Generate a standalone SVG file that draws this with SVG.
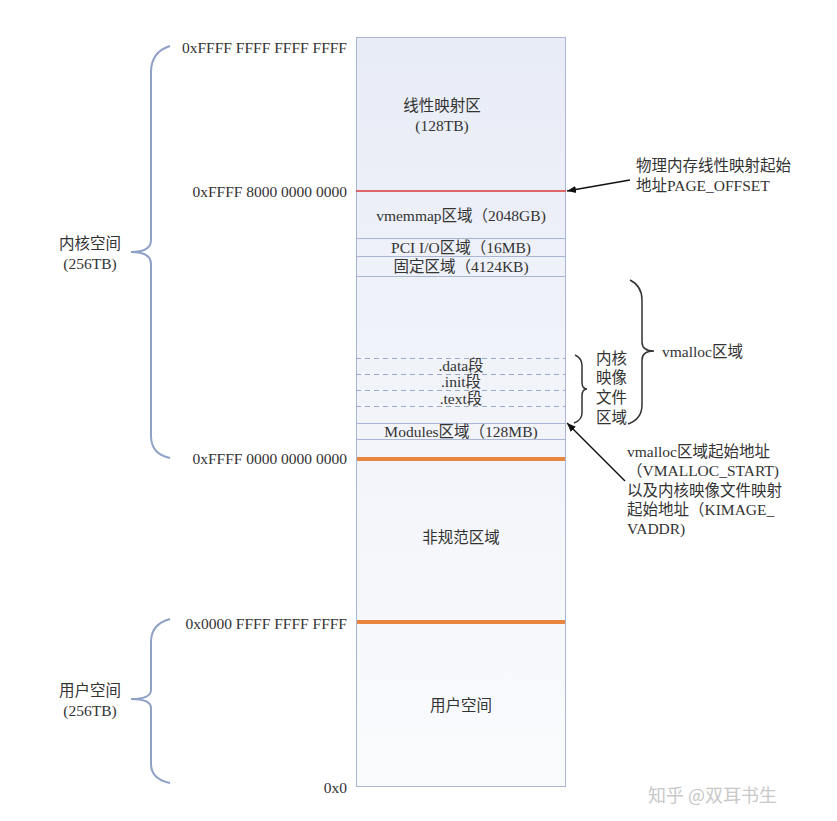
<svg xmlns="http://www.w3.org/2000/svg" width="837" height="821" viewBox="0 0 837 821">
<defs>
<linearGradient id="colfill" x1="0" y1="0" x2="0" y2="1">
<stop offset="0" stop-color="#e8ecf6"/>
<stop offset="0.5" stop-color="#f2f4fa"/>
<stop offset="1" stop-color="#fafbfd"/>
</linearGradient>
<marker id="arr" viewBox="0 0 10 10" refX="10" refY="5" markerWidth="9" markerHeight="9" markerUnits="userSpaceOnUse" orient="auto">
<path d="M0,1 L10,5 L0,9 Z" fill="#111"/>
</marker>
</defs>
<style>
text{font-family:"Liberation Serif","Noto Sans CJK SC",serif;font-size:15.5px;fill:#333}
.c{text-anchor:middle}
.e{text-anchor:end}
.sep{stroke:#a8b5d5;stroke-width:1;fill:none}
.dash{stroke:#9aa9cc;stroke-width:1;stroke-dasharray:5,4;fill:none}
.brace{stroke:#8fa2c6;stroke-width:2;fill:none}
.bk{stroke:#333;stroke-width:1.5;fill:none}
.orange{stroke:#e8853f;stroke-width:4}
.wm{font-family:"Noto Sans CJK SC",sans-serif;font-size:18px;fill:#c8c8c8}
</style>
<rect width="837" height="821" fill="#ffffff"/>

<g id="column">
<rect x="356.5" y="37.5" width="209" height="749" fill="url(#colfill)" stroke="#a8b5d5" stroke-width="1"/>
</g>

<g id="linear-map">
<text class="c" x="442" y="111">线性映射区</text>
<text class="c" x="442" y="131">(128TB)</text>
</g>
<line x1="356" y1="191" x2="566" y2="191" stroke="#d9383a" stroke-width="1.5"/>

<g id="vmemmap">
<text class="c" x="461" y="221">vmemmap区域（2048GB)</text>
<line class="sep" x1="356" y1="238.5" x2="566" y2="238.5"/>
</g>
<g id="pci">
<text class="c" x="461" y="253">PCI I/O区域（16MB)</text>
<line class="sep" x1="356" y1="256.5" x2="566" y2="256.5"/>
</g>
<g id="fixed">
<text class="c" x="461" y="272">固定区域（4124KB)</text>
<line class="sep" x1="356" y1="276.5" x2="566" y2="276.5"/>
</g>

<g id="kernel-image">
<line class="dash" x1="356" y1="358.5" x2="566" y2="358.5"/>
<line class="dash" x1="356" y1="374.5" x2="566" y2="374.5"/>
<line class="dash" x1="356" y1="390.5" x2="566" y2="390.5"/>
<line class="dash" x1="356" y1="406.5" x2="566" y2="406.5"/>
<text class="c" x="461" y="371">.data段</text>
<text class="c" x="461" y="387">.init段</text>
<text class="c" x="461" y="404">.text段</text>
</g>

<g id="modules">
<line class="sep" x1="356" y1="423.5" x2="566" y2="423.5"/>
<text class="c" x="461" y="437">Modules区域（128MB)</text>
<line class="sep" x1="356" y1="439.5" x2="566" y2="439.5"/>
</g>

<line class="orange" x1="357" y1="459" x2="565" y2="459"/>
<g id="noncanonical">
<text class="c" x="461" y="543">非规范区域</text>
</g>
<line class="orange" x1="357" y1="622" x2="565" y2="622"/>
<g id="user-area">
<text class="c" x="461" y="711">用户空间</text>
</g>

<g id="addresses">
<text class="e" x="347" y="53">0xFFFF FFFF FFFF FFFF</text>
<text class="e" x="347" y="197">0xFFFF 8000 0000 0000</text>
<text class="e" x="347" y="464">0xFFFF 0000 0000 0000</text>
<text class="e" x="347" y="629">0x0000 FFFF FFFF FFFF</text>
<text class="e" x="347" y="793">0x0</text>
</g>

<g id="kernel-space">
<path class="brace" d="M170,46 Q151,52 151,72 L151,240 Q151,252 131,252 Q151,252 151,264 L151,436 Q151,454 170,458"/>
<text class="c" x="90" y="249">内核空间</text>
<text class="c" x="90" y="269">(256TB)</text>
</g>

<g id="user-space">
<path class="brace" d="M170,619 Q151,624 151,642 L151,690 Q151,699 131,699 Q151,699 151,708 L151,764 Q151,779 170,783"/>
<text class="c" x="90" y="696">用户空间</text>
<text class="c" x="90" y="716">(256TB)</text>
</g>

<g id="vmalloc">
<path class="bk" d="M630,280 Q642,286 642,300 L642,342 Q642,351 654,351 Q642,351 642,360 L642,405 Q642,419 628,424"/>
<text x="662" y="357">vmalloc区域</text>
</g>

<g id="kimage-label">
<path class="bk" d="M575,355 Q582,358 582,366 L582,382 Q582,389 587,389 Q582,389 582,396 L582,413 Q582,420 574,423"/>
<text x="596" y="364">内核</text>
<text x="596" y="383">映像</text>
<text x="596" y="403">文件</text>
<text x="596" y="423">区域</text>
</g>

<g id="page-offset-note">
<text x="636" y="171">物理内存线性映射起始</text>
<text x="636" y="191">地址PAGE_OFFSET</text>
</g>

<g id="vmalloc-start-note">
<text x="627" y="457">vmalloc区域起始地址</text>
<text x="627" y="476">（VMALLOC_START)</text>
<text x="627" y="496">以及内核映像文件映射</text>
<text x="627" y="515">起始地址（KIMAGE_</text>
<text x="627" y="534">VADDR)</text>
</g>

<g id="connectors">
<line x1="630" y1="180" x2="567" y2="191" stroke="#111" stroke-width="1.5" marker-end="url(#arr)"/>
<line x1="625" y1="481" x2="567" y2="423" stroke="#111" stroke-width="1.5" marker-end="url(#arr)"/>
</g>

<text class="wm" x="648" y="802">知乎 @双耳书生</text>
</svg>
